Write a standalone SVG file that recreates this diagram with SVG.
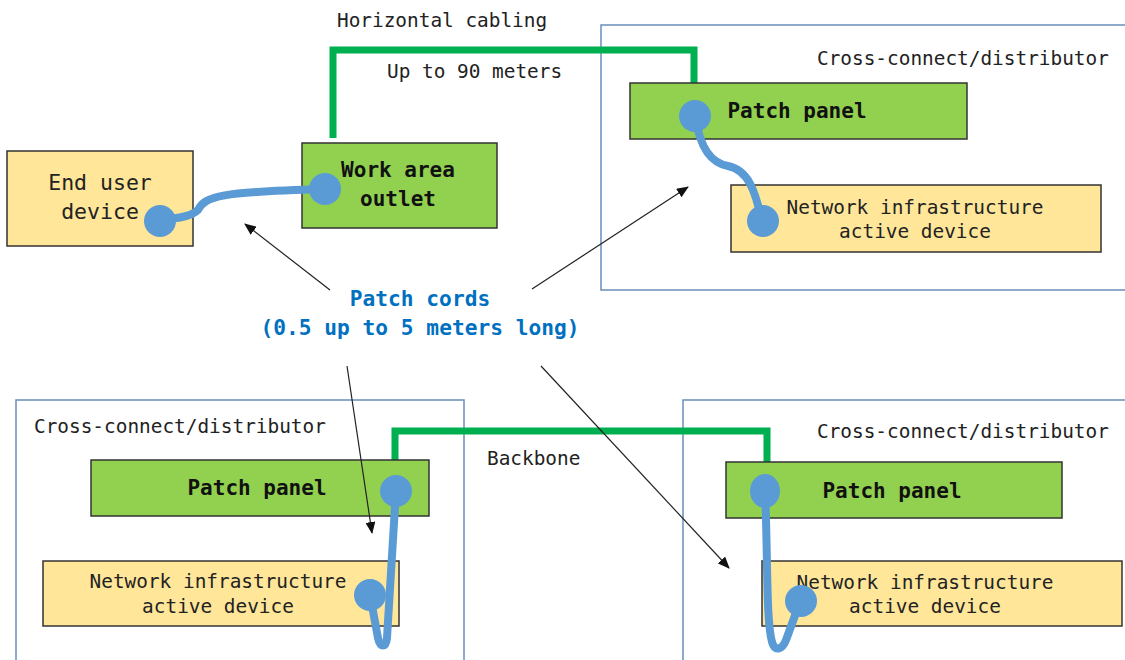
<svg xmlns="http://www.w3.org/2000/svg" width="1125" height="660" viewBox="0 0 1125 660">
<style>
.t{font-family:"DejaVu Sans Mono","Liberation Mono",monospace;font-size:19.4px;fill:#222}
.b{font-family:"DejaVu Sans Mono","Liberation Mono",monospace;font-size:21px;font-weight:bold;fill:#111}
.bl{font-family:"DejaVu Sans Mono","Liberation Mono",monospace;font-size:21.2px;font-weight:bold;fill:#0070C0}
.g{fill:#92D050;stroke:#333;stroke-width:1.5}
.y{fill:#FFE699;stroke:#333;stroke-width:1.5}
.c{fill:none;stroke:#6A8FBA;stroke-width:1.5}
.cab{fill:none;stroke:#00B050;stroke-width:7;stroke-linejoin:miter}
.cord{fill:none;stroke:#5B9BD5;stroke-width:8;stroke-linecap:round}
.dot{fill:#5B9BD5}
.ar{fill:none;stroke:#222;stroke-width:1.2;marker-end:url(#ah)}
</style>
<defs>
<marker id="ah" markerWidth="12" markerHeight="10" refX="11" refY="5" orient="auto" markerUnits="userSpaceOnUse">
<path d="M0,0 L12,5 L0,10 Z" fill="#111"/>
</marker>
</defs>
<rect width="1125" height="660" fill="#fff"/>

<g id="container-top-right"><rect class="c" x="601" y="25" width="530" height="265"/>
<text class="t" x="817" y="65">Cross-connect/distributor</text></g>
<g id="container-bottom-left"><rect class="c" x="16" y="400" width="448" height="270"/>
<text class="t" x="34" y="433">Cross-connect/distributor</text></g>
<g id="container-bottom-right"><rect class="c" x="683" y="400" width="450" height="270"/>
<text class="t" x="817" y="438">Cross-connect/distributor</text></g>

<g id="connectors">
<path class="cab" d="M333,138 V50 H694 V83"/>
<path class="cab" d="M395,460 V431 H767 V462"/>
<text class="t" x="337" y="27">Horizontal cabling</text>
<text class="t" x="387" y="78">Up to 90 meters</text>
<text class="t" x="487" y="465">Backbone</text>
</g>

<g id="end-user-device"><rect class="y" x="7" y="151" width="186" height="95"/>
<text class="t" x="100" y="190" text-anchor="middle" style="font-size:21.5px">End user</text>
<text class="t" x="100" y="219" text-anchor="middle" style="font-size:21.5px">device</text></g>
<g id="work-area-outlet"><rect class="g" x="302" y="143" width="195" height="85"/>
<text class="b" x="398" y="177" text-anchor="middle">Work area</text>
<text class="b" x="398" y="206" text-anchor="middle">outlet</text></g>

<g id="patch-panel-top"><rect class="g" x="630" y="83" width="337" height="56"/>
<text class="b" x="797" y="118" text-anchor="middle">Patch panel</text></g>
<g id="network-device-top"><rect class="y" x="731" y="185" width="370" height="67"/>
<text class="t" x="915" y="214" text-anchor="middle">Network infrastructure</text>
<text class="t" x="915" y="238" text-anchor="middle">active device</text></g>

<g id="patch-panel-bl"><rect class="g" x="91" y="460" width="338" height="56"/>
<text class="b" x="257" y="495" text-anchor="middle">Patch panel</text></g>
<g id="network-device-bl"><rect class="y" x="43" y="561" width="356" height="65"/>
<text class="t" x="218" y="588" text-anchor="middle">Network infrastructure</text>
<text class="t" x="218" y="613" text-anchor="middle">active device</text></g>

<g id="patch-panel-br"><rect class="g" x="726" y="462" width="336" height="56"/>
<text class="b" x="892" y="498" text-anchor="middle">Patch panel</text></g>
<g id="network-device-br"><rect class="y" x="762" y="561" width="360" height="65"/>
<text class="t" x="925" y="589" text-anchor="middle">Network infrastructure</text>
<text class="t" x="925" y="613" text-anchor="middle">active device</text></g>

<g id="patch-cords">
<path class="cord" d="M160,220 C180,218 192,216 198,210 C205,196 220,192 325,189"/>
<circle class="dot" cx="160" cy="221" r="16"/>
<circle class="dot" cx="325" cy="189" r="16"/>
<path class="cord" d="M695,115 C700,150 712,163 728,166 C748,170 755,190 762,221"/>
<circle class="dot" cx="695" cy="116" r="16"/>
<circle class="dot" cx="763" cy="221" r="16"/>
<path class="cord" d="M396,490 L387,638 C386,648 380,648 378,638 L370,595"/>
<circle class="dot" cx="396" cy="491" r="16"/>
<circle class="dot" cx="370" cy="595" r="16"/>
<path class="cord" d="M765,490 C768,560 766,620 772,642 C775,652 782,650 786,640 L800,602"/>
<ellipse class="dot" cx="765" cy="491" rx="15" ry="17"/>
<circle class="dot" cx="801" cy="601" r="16"/>
</g>

<g id="patch-cords-label">
<text class="bl" x="420" y="306" text-anchor="middle">Patch cords</text>
<text class="bl" x="420" y="335" text-anchor="middle">(0.5 up to 5 meters long)</text>
<path class="ar" d="M330,290 L245,224"/>
<path class="ar" d="M532,289 L688,187"/>
<path class="ar" d="M347,366 L372,533"/>
<path class="ar" d="M541,366 L729,568"/>
</g>
</svg>
